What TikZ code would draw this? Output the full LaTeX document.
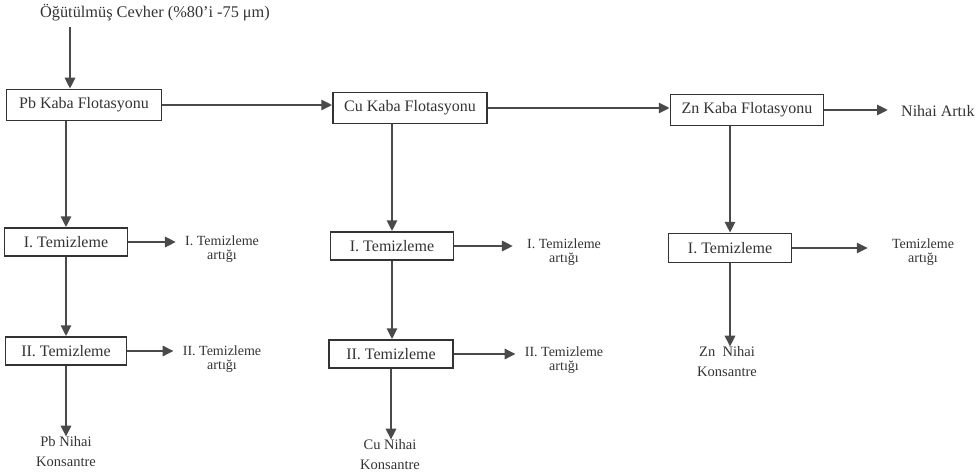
\documentclass[tikz,border=0pt]{standalone}
\usepackage{fontspec}
\setmainfont{Liberation Serif}
\usetikzlibrary{arrows.meta}
\definecolor{ink}{HTML}{333333}
\definecolor{wire}{HTML}{4A4A4A}
\begin{document}
\begin{tikzpicture}[x=1pt,y=-1pt,
 box/.style={draw=ink,line width=1.5pt,rectangle,inner sep=0pt,text=ink,font=\fontsize{16}{18}\selectfont},
 lbl/.style={text=ink,align=center,inner sep=0pt,font=\fontsize{14}{14.5}\selectfont},
 fin/.style={text=ink,align=center,inner sep=0pt,font=\fontsize{14.5}{20}\selectfont},
 flow/.style={draw=wire,line width=2.8pt,-{Triangle[length=11pt,width=10pt]}}]
\useasboundingbox (0,0) rectangle (979,476);

% feed
\node[text=ink,inner sep=0pt,font=\fontsize{16.3}{18}\selectfont] (feedtxt) at (155,13) {Öğütülmüş Cevher (\%80'i -75 μm)};
\coordinate (feed) at (70,27);

% rougher boxes
\node[box,minimum width=155pt,minimum height=31pt] (pb) at (84,105) {Pb Kaba Flotasyonu};
\node[box,minimum width=154pt,minimum height=31pt] (cu) at (410,108) {Cu Kaba Flotasyonu};
\node[box,minimum width=153pt,minimum height=31pt] (zn) at (747,110) {Zn Kaba Flotasyonu};

% cleaners
\node[box,minimum width=123pt,minimum height=28pt] (pb1) at (66,242) {I. Temizleme};
\node[box,minimum width=121pt,minimum height=28pt] (pb2) at (66,351) {II. Temizleme};
\node[box,minimum width=123pt,minimum height=28pt] (cu1) at (392,246) {I. Temizleme};
\node[box,minimum width=124pt,minimum height=28pt] (cu2) at (391,354) {II. Temizleme};
\node[box,minimum width=123pt,minimum height=29pt] (zn1) at (730,248) {I. Temizleme};

% tailings labels
\node[lbl] (pb1t) at (222,249) {I. Temizleme\\artığı};
\node[lbl] (pb2t) at (222,359) {II. Temizleme\\artığı};
\node[lbl] (cu1t) at (564,252) {I. Temizleme\\artığı};
\node[lbl] (cu2t) at (564,360) {II. Temizleme\\artığı};
\node[lbl] (zn1t) at (923,252) {Temizleme\\artığı};
\node[text=ink,inner sep=0pt,font=\fontsize{16}{18}\selectfont,anchor=west] (art) at (901,111) {Nihai Artık};

% final concentrates
\node[fin] (pbk) at (66,452) {Pb Nihai\\Konsantre};
\node[fin] (cuk) at (390,455) {Cu Nihai\\Konsantre};
\node[fin] (znk) at (727,362) {Zn \ Nihai\\Konsantre};

% connectors
\draw[flow] (feed) -- (feed |- pb.north);
\draw[flow] (pb.east) -- (pb.east -| cu.west);
\draw[flow] (cu.east) -- (cu.east -| zn.west);
\draw[flow,shorten >=13pt] (zn.east) -- (zn.east -| art.west);

\draw[flow] (pb.south -| pb1.north) -- (pb1.north);
\draw[flow] (pb1.south) -- (pb1.south |- pb2.north);
\draw[flow] (pb2.south) -- (pb2.south |- pbk.north);

\draw[flow] (cu.south -| cu1.north) -- (cu1.north);
\draw[flow] (cu1.south) -- (cu1.south |- cu2.north);
\draw[flow] (cu2.south) -- (cu2.south |- cuk.north);

\draw[flow] (zn.south -| zn1.north) -- (zn1.north);
\draw[flow] (zn1.south) -- (zn1.south |- znk.north);

\draw[flow,shorten >=9pt] (pb1.east) -- (pb1.east -| pb1t.west);
\draw[flow,shorten >=9pt] (pb2.east) -- (pb2.east -| pb2t.west);
\draw[flow,shorten >=14pt] (cu1.east) -- (cu1.east -| cu1t.west);
\draw[flow,shorten >=9pt] (cu2.east) -- (cu2.east -| cu2t.west);
\draw[flow,shorten >=24pt] (zn1.east) -- (zn1.east -| zn1t.west);
\end{tikzpicture}
\end{document}
